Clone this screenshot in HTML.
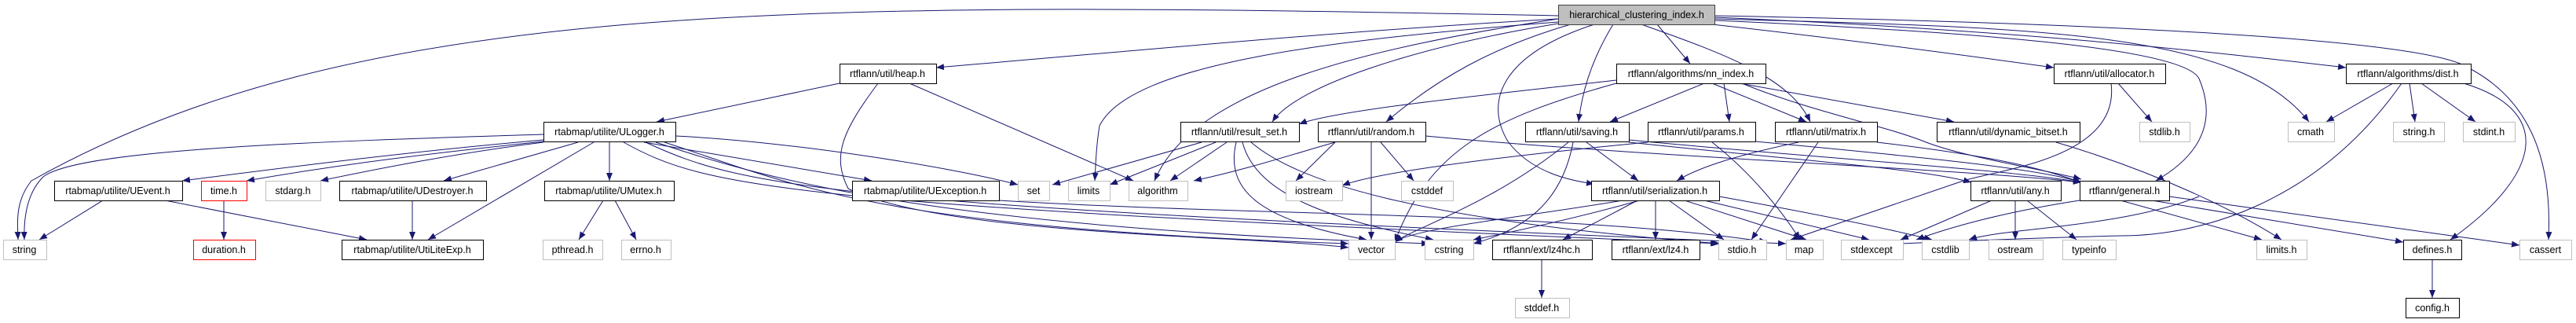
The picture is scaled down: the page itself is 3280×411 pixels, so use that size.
<!DOCTYPE html>
<html><head><meta charset="utf-8"><style>
html,body{margin:0;padding:0;background:#fff;}
svg{display:block;}
text{font-family:"Liberation Sans",Arial,sans-serif;font-size:12.5px;fill:#000;text-anchor:middle;}
.b rect{fill:#fff;stroke:#000;stroke-width:1}
.g rect{fill:#fff;stroke:#bfbfbf;stroke-width:1}
.r rect{fill:#fff;stroke:#ff0000;stroke-width:1}
.e{fill:none;stroke:#191970;stroke-width:1}
</style></head><body>
<svg width="3280" height="411" viewBox="0 0 3280 411" xmlns="http://www.w3.org/2000/svg">
<defs><marker id="a" markerWidth="10" markerHeight="8" refX="10" refY="4" orient="auto" markerUnits="userSpaceOnUse"><path d="M0,0 L10,4 L0,8 z" fill="#191970"/></marker></defs>
<g class="e" marker-end="url(#a)">
<path d="M1984,20 C1000,0 450,0 40,230 C20,255 22,280 23,305"/>
<path d="M1984,24 C1700,40 1500,60 1192,86"/>
<path d="M2110,31 L2152,81"/>
<path d="M2180,31 C2350,50 2500,70 2615,86"/>
<path d="M2184,22 C2600,40 2850,70 2987,86"/>
<path d="M2184,24 C2600,35 2850,40 2940,155"/>
<path d="M2184,20 C2700,30 3050,50 3130,80 C3220,120 3250,200 3245,305"/>
<path d="M2184,26 C2500,40 2780,60 2800,100 C2830,170 2780,210 2745,230"/>
<path d="M1984,28 C1700,50 1440,80 1400,160 C1395,190 1395,215 1394,230"/>
<path d="M1984,24 C1750,60 1520,110 1470,230"/>
<path d="M1984,30 C1800,60 1650,110 1620,155"/>
<path d="M2000,31 C1900,60 1830,100 1765,155"/>
<path d="M2054,31 C2030,70 2015,110 2010,155"/>
<path d="M2090,31 C2200,70 2280,100 2305,155"/>
<path d="M2030,31 C1910,70 1890,130 1920,180 C1950,220 2000,230 2030,234"/>
<path d="M1069,106 L836,155"/>
<path d="M1158,106 L1443,230"/>
<path d="M1118,106 C1070,170 1060,200 1080,240 C1200,300 1600,300 1717,315"/>
<path d="M2058,102 C1900,120 1700,140 1654,158"/>
<path d="M2170,106 L2050,155"/>
<path d="M2195,106 L2202,155"/>
<path d="M2180,106 L2300,155"/>
<path d="M2215,106 L2488,155"/>
<path d="M2218,106 C2300,140 2400,160 2450,180 C2500,200 2600,215 2650,228"/>
<path d="M2058,106 C1900,150 1820,190 1776,308"/>
<path d="M692,171 C400,180 100,190 55,225 C35,245 30,275 31,305"/>
<path d="M692,178 C500,195 350,215 232,230"/>
<path d="M692,180 C500,200 400,215 314,230"/>
<path d="M692,181 C580,195 480,215 408,230"/>
<path d="M736,181 L565,230"/>
<path d="M756,181 L545,305"/>
<path d="M776,181 L776,230"/>
<path d="M820,181 L1110,230"/>
<path d="M860,173 C1000,180 1200,210 1296,235"/>
<path d="M794,181 C900,240 1000,260 2188,310"/>
<path d="M822,181 C950,240 1050,260 2274,310"/>
<path d="M846,181 C1000,230 1100,290 1717,310"/>
<path d="M835,181 C980,230 1200,290 1820,310"/>
<path d="M131,255 L50,305"/>
<path d="M210,255 L467,305"/>
<path d="M285,255 L285,305"/>
<path d="M525,255 L525,305"/>
<path d="M768,255 L737,305"/>
<path d="M783,255 L810,305"/>
<path d="M1272,255 C1600,275 2000,270 2250,308"/>
<path d="M1530,181 L1340,235"/>
<path d="M1548,181 L1413,235"/>
<path d="M1562,181 L1490,230"/>
<path d="M1574,181 C1560,240 1600,280 1740,305"/>
<path d="M1582,181 C1600,250 1700,280 1825,305"/>
<path d="M1593,181 C1650,230 1800,280 2190,310"/>
<path d="M1700,181 C1650,195 1590,215 1520,230"/>
<path d="M1746,181 L1746,305"/>
<path d="M1758,181 L1800,230"/>
<path d="M1815,173 C2100,200 2500,215 2650,232"/>
<path d="M1700,181 L1650,230"/>
<path d="M2020,181 L2086,230"/>
<path d="M1997,181 C1900,260 1800,290 1776,308"/>
<path d="M2003,181 C1990,250 1950,290 1876,310"/>
<path d="M2074,178 C2300,200 2550,215 2650,232"/>
<path d="M2074,181 C2300,205 2450,215 2510,232"/>
<path d="M2098,181 C1900,200 1750,220 1709,236"/>
<path d="M2180,181 C2230,220 2270,270 2292,305"/>
<path d="M2235,180 C2450,200 2600,215 2650,232"/>
<path d="M2290,181 C2200,200 2160,215 2135,230"/>
<path d="M2315,181 L2230,305"/>
<path d="M2390,181 C2550,200 2600,215 2650,232"/>
<path d="M2618,181 C2750,220 2850,270 2905,305"/>
<path d="M2688,106 C2700,200 2550,215 2500,230 L2280,305"/>
<path d="M2697,106 L2740,155"/>
<path d="M3047,106 L2962,155"/>
<path d="M3068,106 L3075,155"/>
<path d="M3083,106 L3152,155"/>
<path d="M3137,106 C3250,140 3240,220 3120,305"/>
<path d="M3058,106 C2950,260 2800,300 2700,300 C2500,305 2400,312 2352,312"/>
<path d="M2066,255 C1950,275 1800,290 1776,308"/>
<path d="M2088,255 C1980,285 1900,300 1876,305"/>
<path d="M2085,255 L1990,305"/>
<path d="M2108,255 L2108,305"/>
<path d="M2125,255 L2195,305"/>
<path d="M2145,255 L2300,305"/>
<path d="M2170,255 L2380,305"/>
<path d="M2189,250 C2300,270 2400,290 2460,305"/>
<path d="M2536,255 L2420,305"/>
<path d="M2566,255 L2566,305"/>
<path d="M2581,255 L2644,305"/>
<path d="M2700,255 L2880,305"/>
<path d="M2740,255 L3060,308"/>
<path d="M2762,250 L3208,312"/>
<path d="M2648,255 C2550,270 2480,290 2440,305"/>
<path d="M2800,250 C2700,290 2550,290 2507,305"/>
<path d="M1963,330 L1963,379"/>
<path d="M3097,330 L3097,379"/>
</g>
<g class="g"><rect x="1984.5" y="6.5" width="199" height="25" style="fill:#bfbfbf;stroke:#404040"/></g>
<text x="2084" y="23">hierarchical_clustering_index.h</text>
<g class="b">
<rect x="1069.5" y="81.5" width="123" height="25"/><rect x="2058.5" y="81.5" width="190" height="25"/>
<rect x="2615.5" y="81.5" width="142" height="25"/><rect x="2987.5" y="81.5" width="159" height="25"/>
<rect x="692.5" y="155.5" width="168" height="25"/><rect x="1503.5" y="155.5" width="151" height="25"/>
<rect x="1678.5" y="155.5" width="137" height="25"/><rect x="1942.5" y="155.5" width="132" height="25"/>
<rect x="2098.5" y="155.5" width="137" height="25"/><rect x="2260.5" y="155.5" width="130" height="25"/>
<rect x="2466.5" y="155.5" width="182" height="25"/>
<rect x="69.5" y="230.5" width="163" height="25"/><rect x="432.5" y="230.5" width="187" height="25"/>
<rect x="693.5" y="230.5" width="165" height="25"/><rect x="1085.5" y="230.5" width="187" height="25"/>
<rect x="2026.5" y="230.5" width="163" height="25"/><rect x="2509.5" y="230.5" width="115" height="25"/>
<rect x="2648.5" y="230.5" width="114" height="25"/>
<rect x="435.5" y="305.5" width="180" height="25"/><rect x="1900.5" y="305.5" width="127" height="25"/>
<rect x="2052.5" y="305.5" width="112" height="25"/><rect x="3060.5" y="305.5" width="74" height="25"/>
<rect x="3063.5" y="379.5" width="68" height="25"/>
</g>
<g class="r"><rect x="256.5" y="230.5" width="58" height="25"/><rect x="246.5" y="305.5" width="79" height="25"/></g>
<g class="g">
<rect x="2724.5" y="155.5" width="64" height="25"/><rect x="2913.5" y="155.5" width="59" height="25"/>
<rect x="3047.5" y="155.5" width="65" height="25"/><rect x="3136.5" y="155.5" width="66" height="25"/>
<rect x="338.5" y="230.5" width="70" height="25"/><rect x="1296.5" y="230.5" width="40" height="25"/>
<rect x="1360.5" y="230.5" width="53" height="25"/><rect x="1437.5" y="230.5" width="75" height="25"/>
<rect x="1637.5" y="230.5" width="72" height="25"/><rect x="1784.5" y="230.5" width="66" height="25"/>
<rect x="4.5" y="305.5" width="55" height="25"/><rect x="691.5" y="305.5" width="76" height="25"/>
<rect x="791.5" y="305.5" width="63" height="25"/><rect x="1717.5" y="305.5" width="59" height="25"/>
<rect x="1814.5" y="305.5" width="62" height="25"/><rect x="2188.5" y="305.5" width="61" height="25"/>
<rect x="2274.5" y="305.5" width="47" height="25"/><rect x="2344.5" y="305.5" width="79" height="25"/>
<rect x="2447.5" y="305.5" width="60" height="25"/><rect x="2532.5" y="305.5" width="69" height="25"/>
<rect x="2626.5" y="305.5" width="68" height="25"/><rect x="2873.5" y="305.5" width="64" height="25"/>
<rect x="3208.5" y="305.5" width="66" height="25"/><rect x="1929.5" y="379.5" width="69" height="25"/>
</g>
<text x="1130" y="98">rtflann/util/heap.h</text>
<text x="2153" y="98">rtflann/algorithms/nn_index.h</text>
<text x="2686" y="98">rtflann/util/allocator.h</text>
<text x="3066" y="98">rtflann/algorithms/dist.h</text>
<text x="776" y="172">rtabmap/utilite/ULogger.h</text>
<text x="1578" y="172">rtflann/util/result_set.h</text>
<text x="1746" y="172">rtflann/util/random.h</text>
<text x="2008" y="172">rtflann/util/saving.h</text>
<text x="2166" y="172">rtflann/util/params.h</text>
<text x="2325" y="172">rtflann/util/matrix.h</text>
<text x="2557" y="172">rtflann/util/dynamic_bitset.h</text>
<text x="2756" y="172">stdlib.h</text>
<text x="2942" y="172">cmath</text>
<text x="3080" y="172">string.h</text>
<text x="3169" y="172">stdint.h</text>
<text x="150" y="247">rtabmap/utilite/UEvent.h</text>
<text x="285" y="247">time.h</text>
<text x="373" y="247">stdarg.h</text>
<text x="525" y="247">rtabmap/utilite/UDestroyer.h</text>
<text x="775" y="247">rtabmap/utilite/UMutex.h</text>
<text x="1178" y="247">rtabmap/utilite/UException.h</text>
<text x="1316" y="247">set</text>
<text x="1386" y="247">limits</text>
<text x="1474" y="247">algorithm</text>
<text x="1673" y="247">iostream</text>
<text x="1817" y="247">cstddef</text>
<text x="2107" y="247">rtflann/util/serialization.h</text>
<text x="2566" y="247">rtflann/util/any.h</text>
<text x="2705" y="247">rtflann/general.h</text>
<text x="31" y="322">string</text>
<text x="285" y="322">duration.h</text>
<text x="525" y="322">rtabmap/utilite/UtiLiteExp.h</text>
<text x="729" y="322">pthread.h</text>
<text x="822" y="322">errno.h</text>
<text x="1746" y="322">vector</text>
<text x="1845" y="322">cstring</text>
<text x="1963" y="322">rtflann/ext/lz4hc.h</text>
<text x="2108" y="322">rtflann/ext/lz4.h</text>
<text x="2218" y="322">stdio.h</text>
<text x="2297" y="322">map</text>
<text x="2383" y="322">stdexcept</text>
<text x="2477" y="322">cstdlib</text>
<text x="2566" y="322">ostream</text>
<text x="2660" y="322">typeinfo</text>
<text x="2905" y="322">limits.h</text>
<text x="3097" y="322">defines.h</text>
<text x="3241" y="322">cassert</text>
<text x="1963" y="396">stddef.h</text>
<text x="3097" y="396">config.h</text>
</svg>
</body></html>
